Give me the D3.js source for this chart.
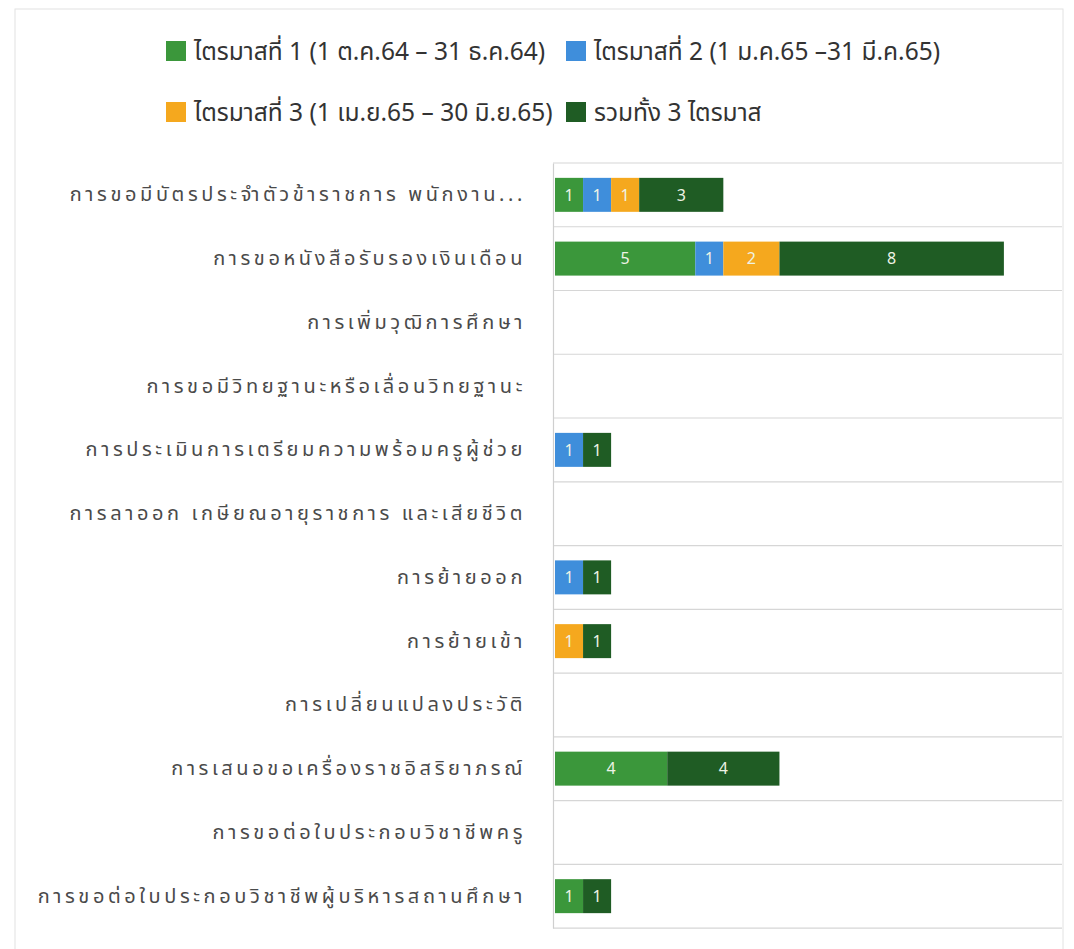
<!DOCTYPE html>
<html>
<head>
<meta charset="utf-8">
<script src="https://cdn.jsdelivr.net/npm/d3@7"></script>
<style>
  body { margin: 0; background: #ffffff; }
  svg { display: block; }
</style>
</head>
<body>
<div id="chart"></div>
<script>
// Data
const categories = [
  "การขอมีบัตรประจำตัวข้าราชการ พนักงาน...",
  "การขอหนังสือรับรองเงินเดือน",
  "การเพิ่มวุฒิการศึกษา",
  "การขอมีวิทยฐานะหรือเลื่อนวิทยฐานะ",
  "การประเมินการเตรียมความพร้อมครูผู้ช่วย",
  "การลาออก เกษียณอายุราชการ และเสียชีวิต",
  "การย้ายออก",
  "การย้ายเข้า",
  "การเปลี่ยนแปลงประวัติ",
  "การเสนอขอเครื่องราชอิสริยาภรณ์",
  "การขอต่อใบประกอบวิชาชีพครู",
  "การขอต่อใบประกอบวิชาชีพผู้บริหารสถานศึกษา"
];
const q1 =    [1, 5, 0, 0, 0, 0, 0, 0, 0, 4, 0, 1];
const q2 =    [1, 1, 0, 0, 1, 0, 1, 0, 0, 0, 0, 0];
const q3 =    [1, 2, 0, 0, 0, 0, 0, 1, 0, 0, 0, 0];
const total = [3, 8, 0, 0, 1, 0, 1, 1, 0, 4, 0, 1];

const seriesNames = [
  "ไตรมาสที่ 1 (1 ต.ค.64 – 31 ธ.ค.64)",
  "ไตรมาสที่ 2 (1 ม.ค.65 –31 มี.ค.65)",
  "ไตรมาสที่ 3 (1 เม.ย.65 – 30 มิ.ย.65)",
  "รวมทั้ง 3 ไตรมาส"
];
const keys = ["q1", "q2", "q3", "total"];
const colors = ["#3b973b", "#3f8edb", "#f5a81e", "#1f5c24"];

const width = 1074;
const height = 949;
const fontFamily = "'Noto Sans Thai', 'Noto Sans', 'DejaVu Sans', sans-serif";

const svg = d3.select("#chart")
  .append("svg")
  .attr("width", width)
  .attr("height", height);

// faint page frame seen in the photo
svg.append("rect")
  .attr("x", 15)
  .attr("y", 9)
  .attr("width", 1048)
  .attr("height", 960)
  .attr("fill", "none")
  .attr("stroke", "#e2e2e2")
  .attr("stroke-width", 1);

const rows = categories.map((c, i) => ({
  cat: c, q1: q1[i], q2: q2[i], q3: q3[i], total: total[i]
}));

const x = d3.scaleLinear()
  .domain([0, 18])
  .range([555, 1060]);

const y = d3.scaleBand()
  .domain(categories)
  .range([163, 928])
  .paddingInner(0.467)
  .paddingOuter(0.233);

// horizontal gridlines between rows
const gridYs = d3.range(categories.length + 1).map(i => y.range()[0] + i * y.step());
svg.append("g")
  .selectAll("line")
  .data(gridYs)
  .join("line")
  .attr("x1", 553)
  .attr("x2", 1062)
  .attr("y1", d => d)
  .attr("y2", d => d)
  .attr("stroke", "#d6d6d6")
  .attr("stroke-width", 1.2);

// category axis
const yAxis = svg.append("g")
  .attr("transform", "translate(553,0)")
  .call(d3.axisLeft(y).tickSize(0).tickPadding(27));
yAxis.select(".domain")
  .attr("stroke", "#cfcfcf")
  .attr("stroke-width", 1.2);
yAxis.selectAll("text")
  .attr("font-family", fontFamily)
  .attr("font-size", 20)
  .attr("letter-spacing", "3.6px")
  .attr("fill", "#4a4a4a");

// stacked bars
const stacked = d3.stack().keys(keys)(rows);

const layers = svg.append("g")
  .selectAll("g")
  .data(stacked)
  .join("g")
  .attr("fill", (d, i) => colors[i]);

layers.selectAll("rect")
  .data(d => d.filter(s => s[1] - s[0] > 0))
  .join("rect")
  .attr("x", d => x(d[0]))
  .attr("y", d => y(d.data.cat))
  .attr("width", d => x(d[1]) - x(d[0]))
  .attr("height", y.bandwidth());

layers.selectAll("text")
  .data(d => d.filter(s => s[1] - s[0] > 0))
  .join("text")
  .attr("x", d => (x(d[0]) + x(d[1])) / 2)
  .attr("y", d => y(d.data.cat) + y.bandwidth() / 2)
  .attr("dy", "0.36em")
  .attr("text-anchor", "middle")
  .attr("font-family", fontFamily)
  .attr("font-size", 16)
  .attr("fill", "#eef3e6")
  .text(d => d[1] - d[0]);

// legend
const legendPos = [[166, 50], [566, 50], [166, 111], [566, 111]];
const legend = svg.append("g")
  .selectAll("g")
  .data(seriesNames)
  .join("g")
  .attr("transform", (d, i) => `translate(${legendPos[i][0]},${legendPos[i][1]})`);

legend.append("rect")
  .attr("x", 0)
  .attr("y", -9)
  .attr("width", 20)
  .attr("height", 20)
  .attr("fill", (d, i) => colors[i]);

legend.append("text")
  .attr("x", 28)
  .attr("y", 1)
  .attr("dy", "0.35em")
  .attr("font-family", fontFamily)
  .attr("font-size", 24.5)
  .attr("fill", "#333333")
  .text(d => d);
</script>
</body>
</html>
